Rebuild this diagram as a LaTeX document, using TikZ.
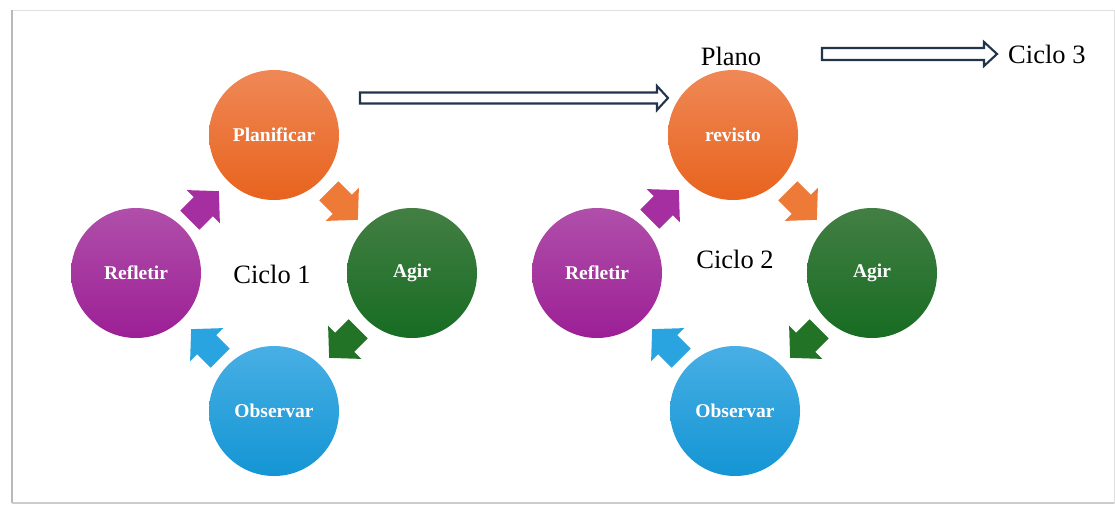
\documentclass[tikz,border=0pt]{standalone}
\usepackage{fontspec}
\setmainfont{Liberation Serif}
\usetikzlibrary{calc}
\definecolor{orT}{HTML}{EF8856}
\definecolor{orB}{HTML}{E8631E}
\definecolor{grT}{HTML}{437F43}
\definecolor{grB}{HTML}{176C23}
\definecolor{puT}{HTML}{B04FAA}
\definecolor{puB}{HTML}{9C1F95}
\definecolor{blT}{HTML}{48AFE4}
\definecolor{blB}{HTML}{1495D4}
\definecolor{arOr}{HTML}{EE7A38}
\definecolor{arGr}{HTML}{237326}
\definecolor{arPu}{HTML}{A52FA0}
\definecolor{arBl}{HTML}{2AA4E0}
\definecolor{navy}{HTML}{22344A}
\begin{document}
\begin{tikzpicture}[x=1pt,y=-1pt,
  stage/.style={circle, minimum size=130pt, inner sep=0pt, text=white,
    font=\bfseries\fontsize{19.5}{21}\selectfont},
  orball/.style={stage, top color=orT, bottom color=orB},
  grball/.style={stage, top color=grT, bottom color=grB},
  puball/.style={stage, top color=puT, bottom color=puB},
  blball/.style={stage, top color=blT, bottom color=blB},
  lbl/.style={inner sep=0pt, font=\fontsize{26.5}{28}\selectfont},
  hollow/.style={draw=navy, line width=2.1pt, fill=white, line join=miter},
  blk/.pic={\fill[pic actions] (-20,-13.5) -- (-1,-13.5) -- (-1,-23.5) -- (21,0) -- (-1,23.5) -- (-1,13.5) -- (-20,13.5) -- cycle;}
]
\useasboundingbox (0,0) rectangle (1115,506);
% frame
\draw[gray!25, line width=1pt] (12,10) rectangle (1114,503);
\draw[gray!55, line width=2pt] (12,10) -- (12,503);
\draw[gray!40, line width=1.2pt] (12,503) -- (1114,503);

% cycle 1
\node[orball] (plan1) at (274,135) {Planificar};
\node[puball] (ref1) at (136,273) {Refletir};
\node[grball] (agir1) at (412,273) {Agir};
\node[blball] (obs1) at (274,411) {Observar};
\node[lbl] (c1) at (272,274) {Ciclo 1};
\pic[fill=arPu, rotate=45] at (204,206) {blk};
\pic[fill=arOr, rotate=-45] at (343,205) {blk};
\pic[fill=arGr, rotate=-135] at (344,343) {blk};
\pic[fill=arBl, rotate=135] at (206,344) {blk};

% cycle 2
\node[orball] (plan2) at (733,135) {revisto};
\node[puball] (ref2) at (597,273) {Refletir};
\node[grball] (agir2) at (872,273) {Agir};
\node[blball] (obs2) at (735,411) {Observar};
\node[lbl] (c2) at (735,259) {Ciclo 2};
\node[lbl] (plano) at (731,56) {Plano};
\node[lbl, anchor=west] (c3) at (1008,54) {Ciclo 3};
\pic[fill=arPu, rotate=45] at (664,205) {blk};
\pic[fill=arOr, rotate=-45] at (802,205) {blk};
\pic[fill=arGr, rotate=-135] at (805,343) {blk};
\pic[fill=arBl, rotate=135] at (667,344) {blk};

% hollow arrows
\coordinate (a1s) at (360,98);
\coordinate (a1e) at (668,98);
\draw[hollow] ($(a1s)+(0,-5.5)$) -- ($(a1e)+(-11,-5.5)$) -- ($(a1e)+(-11,-12)$) -- (a1e)
  -- ($(a1e)+(-11,12)$) -- ($(a1e)+(-11,5.5)$) -- ($(a1s)+(0,5.5)$) -- cycle;
\coordinate (a2s) at (822,54);
\coordinate (a2e) at (997,54);
\draw[hollow] ($(a2s)+(0,-6)$) -- ($(a2e)+(-13,-6)$) -- ($(a2e)+(-13,-12)$) -- (a2e)
  -- ($(a2e)+(-13,12)$) -- ($(a2e)+(-13,6)$) -- ($(a2s)+(0,6)$) -- cycle;
\end{tikzpicture}
\end{document}
